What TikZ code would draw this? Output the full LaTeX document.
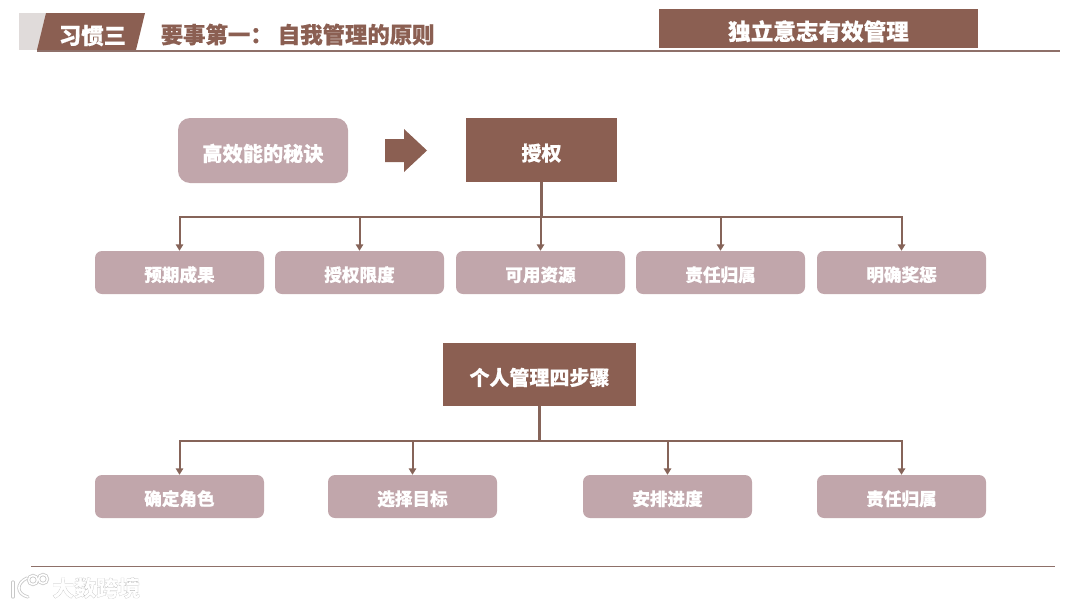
\documentclass[tikz,border=0pt]{standalone}
\usepackage{fontspec}
\setmainfont[BoldFeatures={FakeBold=0.6}]{Noto Sans CJK SC}
\usetikzlibrary{arrows.meta,calc}
\definecolor{darkbrown}{HTML}{8B5F52}
\definecolor{lightmauve}{HTML}{C1A6AB}
\definecolor{paleband}{HTML}{E0DBDA}
\definecolor{rulecol}{HTML}{8E7069}
\definecolor{linkcol}{HTML}{866459}
\definecolor{markgrey}{HTML}{C8C8C8}
\newcommand{\fs}[1]{\fontsize{#1}{#1}\selectfont\bfseries}
\newcommand{\outlined}[1]{\special{pdf:code q 2 Tr 1.1 w 0.72 G 1 g}#1\special{pdf:code Q}}
\tikzset{
  x=1pt,y=-1pt,
  darkbox/.style={fill=darkbrown,draw=none,text=white,inner sep=0pt,font=\fs{20},text height=21.2pt,text depth=0pt},
  softbox/.style={fill=lightmauve,draw=none,text=white,inner sep=0pt,rounded corners=7pt,font=\fs{17.6},minimum width=169pt,minimum height=43pt,text height=17.8pt,text depth=0pt},
  link/.style={draw=linkcol,line width=2pt},
  trunk/.style={draw=linkcol,line width=2.4pt},
  arrowlink/.style={link,-{Triangle[length=6.5pt,width=7.5pt]}},
  rulebar/.style={draw=rulecol,line width=1.7pt},
}
\begin{document}
\begin{tikzpicture}
\useasboundingbox (0,0) rectangle (1080,608);
% header
\fill[paleband] (19,13) rectangle (46,50);
\fill[darkbrown] (46,13) -- (145,13) -- (136,50) -- (37,50) -- cycle;
\node[text=white,font=\fs{22.4},inner sep=0pt] (habit) at (92.5,35.5) {习惯三};
\node[text=darkbrown,font=\fs{22.4},inner sep=0pt,anchor=west] (title) at (160.5,34.5) {要事第一： 自我管理的原则};
\coordinate (ruleL) at (37,50.7);
\coordinate (ruleR) at (1060,50.7);
\draw[rulebar] (ruleL) -- (ruleR);
\node[darkbox,minimum width=319pt,minimum height=39pt,font=\fs{22.6},text height=23pt] (tag) at (818.5,28.5) {独立意志有效管理};
% upper tree
\node[fill=lightmauve,text=white,inner sep=0pt,rounded corners=12pt,minimum width=170pt,minimum height=65pt,font=\fs{20.2},text height=21.4pt,text depth=0pt] (secret) at (263,150.5) {高效能的秘诀};
\fill[darkbrown] (385,139) -- (404,139) -- (404,129) -- (427,150.5) -- (404,172) -- (404,162) -- (385,162) -- cycle;
\node[darkbox,minimum width=151pt,minimum height=64pt] (auth) at (541.5,150) {授权};
\node[softbox] (a1) at (179.5,272.5) {预期成果};
\node[softbox] (a2) at (359.5,272.5) {授权限度};
\node[softbox] (a3) at (540.5,272.5) {可用资源};
\node[softbox] (a4) at (720.5,272.5) {责任归属};
\node[softbox] (a5) at (901.5,272.5) {明确奖惩};
\coordinate (busA) at (541.5,217);
\draw[trunk] (auth.south) -- (busA);
\foreach \n in {a1,a2,a3,a4,a5}{\draw[arrowlink] (busA) -| (\n.north);}
% lower tree
\node[darkbox,minimum width=193pt,minimum height=63pt] (steps) at (539.5,374.5) {个人管理四步骤};
\node[softbox] (b1) at (179.5,496.5) {确定角色};
\node[softbox] (b2) at (412.5,496.5) {选择目标};
\node[softbox] (b3) at (667.5,496.5) {安排进度};
\node[softbox] (b4) at (901.5,496.5) {责任归属};
\coordinate (busB) at (539.5,441);
\draw[trunk] (steps.south) -- (busB);
\foreach \n in {b1,b2,b3,b4}{\draw[arrowlink] (busB) -| (\n.north);}
% footer
\coordinate (footL) at (31,566.5);
\coordinate (footR) at (1055,566.5);
\draw[rulebar] (footL) -- (footR);
% watermark logo
\begin{scope}[line cap=round]
\foreach \c/\w in {markgrey/3.2,white/1.6}{
\draw[draw=\c,line width=\w pt] (13,582) -- (13,597);
\draw[draw=\c,line width=\w pt] (27,578) .. controls (16,583) and (16,594) .. (28,597);
\draw[draw=\c,line width=\w pt] (33,580) circle[radius=4.5];
\draw[draw=\c,line width=\w pt] (43,579) circle[radius=4.5];
}
\end{scope}
\node[inner sep=0pt,anchor=west,font=\fs{22}] (mark) at (52,588) {\outlined{大数跨境}};
\end{tikzpicture}
\end{document}
